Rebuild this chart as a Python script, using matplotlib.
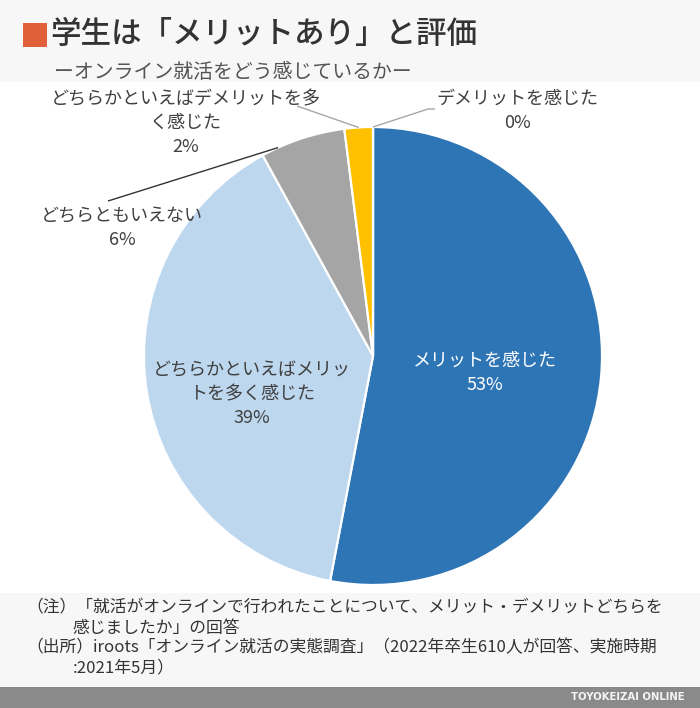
import matplotlib.pyplot as plt
from matplotlib.patches import Rectangle
import numpy as np

plt.rcParams['font.family'] = ['Noto Sans CJK JP', 'DejaVu Sans']

# data
labels = ['メリットを感じた', 'どちらかといえばメリッ\nトを多く感じた', 'どちらともいえない',
          'どちらかといえばデメリットを多\nく感じた', 'デメリットを感じた']
shares = [53, 39, 6, 2, 0]
colors = ['#2E75B6', '#BDD7EE', '#A5A5A5', '#FFC000', '#ED7D31']

title = '学生は「メリットあり」と評価'
subtitle = 'ーオンライン就活をどう感じているかー'
notes = [
    ('（注）「就活がオンラインで行われたことについて、メリット・デメリットどちらを', 26),
    ('感じましたか」の回答', 73),
    ('（出所）iroots「オンライン就活の実態調査」（2022年卒生610人が回答、実施時期', 26),
    (':2021年5月）', 73),
]

W, H = 700, 708
CX, CY, R = 373, 356, 229  # pie centre / radius in pixels


def fx(x):
    return x / W


def fy(y):
    return 1 - y / H


fig = plt.figure(figsize=(W / 100, H / 100), dpi=100, facecolor='#f7f7f7')

# white plot panel + bottom bar
fig.add_artist(Rectangle((0, fy(593)), 1, fy(82) - fy(593), transform=fig.transFigure,
                         facecolor='white', edgecolor='none', zorder=-2))
fig.add_artist(Rectangle((0, 0), 1, fy(687), transform=fig.transFigure,
                         facecolor='#8a8a8a', edgecolor='none', zorder=-2))

# axes spanning whole figure, 1 data unit == R pixels
ax = fig.add_axes([0, 0, 1, 1])
ax.set_facecolor('none')

wedges, _ = ax.pie(shares, colors=colors, startangle=90, counterclock=False, radius=1,
                   wedgeprops=dict(edgecolor='white', linewidth=1.6))
ax.set_xlim((0 - CX) / R, (W - CX) / R)
ax.set_ylim((CY - H) / R, CY / R)
ax.axis('off')

# label positions (pixels) and text colours
label_pos = [(485, 373), (252, 394), (122, 228), (186, 123), (518, 111)]
label_col = ['white', '#404040', '#404040', '#404040', '#404040']
for lab, val, (px, py), c in zip(labels, shares, label_pos, label_col):
    ax.text((px - CX) / R, (CY - py) / R, f'{lab}\n{val}%', ha='center', va='center',
            fontsize=13, color=c, linespacing=1.42)


def edge_point(w, frac):
    t = np.deg2rad(w.theta1 + frac * (w.theta2 - w.theta1))
    return np.cos(t), np.sin(t)


def to_data(px, py):
    return (px - CX) / R, (CY - py) / R


# leader lines: (wedge index, fraction along wedge, label-side points in px, colour)
leaders = [
    (4, 0.5, [(428, 109), (435, 109)], '#a6a6a6'),
    (3, 0.5, [(297, 106)], '#a6a6a6'),
    (2, 0.8, [(108, 201)], '#333333'),
]
for i, frac, pts, c in leaders:
    ex, ey = edge_point(wedges[i], frac)
    xs = [ex] + [to_data(*p)[0] for p in pts]
    ys = [ey] + [to_data(*p)[1] for p in pts]
    ax.plot(xs, ys, color=c, lw=1, solid_capstyle='butt')

# title block
fig.add_artist(Rectangle((fx(23), fy(47)), fx(24), fy(23) - fy(47), transform=fig.transFigure,
                         facecolor='#E0603A', edgecolor='none'))
fig.text(fx(50), fy(35), title, fontsize=22, fontweight='medium', color='#333333',
         ha='left', va='center')
fig.text(fx(54), fy(72), subtitle, fontsize=14.3, color='#555555', ha='left', va='center')

# notes
for k, (line, x0) in enumerate(notes):
    fig.text(fx(x0), fy(608 + 20 * k), line, fontsize=12.1, color='#333333',
             ha='left', va='center')

fig.text(fx(685), fy(697.5), 'TOYOKEIZAI ONLINE', fontsize=7.3, fontweight='bold',
         color='#f4f4f4', ha='right', va='center', family='DejaVu Sans')

fig.savefig('out.png', dpi=100, facecolor=fig.get_facecolor())
